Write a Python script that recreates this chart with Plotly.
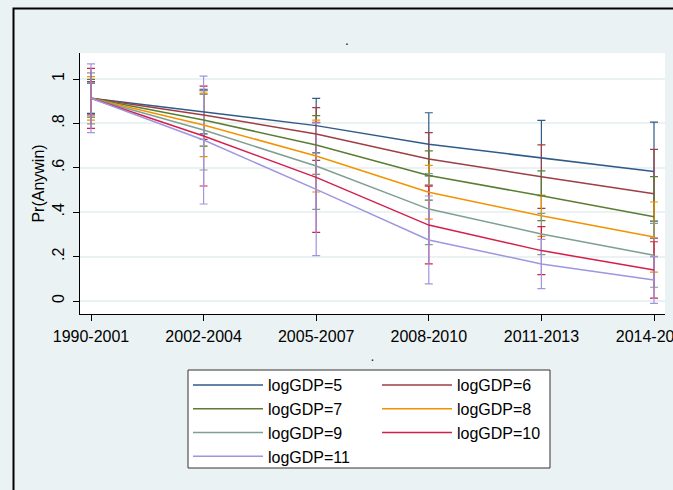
import plotly.graph_objects as go

periods = ["1990-2001", "2002-2004", "2005-2007", "2008-2010", "2011-2013", "2014-2016"]
series_names = ["logGDP=5", "logGDP=6", "logGDP=7", "logGDP=8", "logGDP=9", "logGDP=10", "logGDP=11"]

# predicted Pr(Anywin)
p5 = [0.913, 0.853, 0.790, 0.706, 0.644, 0.583]
p6 = [0.913, 0.838, 0.752, 0.640, 0.560, 0.483]
p7 = [0.913, 0.815, 0.703, 0.565, 0.474, 0.380]
p8 = [0.913, 0.793, 0.653, 0.490, 0.384, 0.288]
p9 = [0.913, 0.770, 0.608, 0.414, 0.302, 0.206]
p10 = [0.913, 0.743, 0.557, 0.342, 0.227, 0.140]
p11 = [0.913, 0.725, 0.503, 0.275, 0.167, 0.095]

# half-width of 95% CI
ci5 = [0.068, 0.100, 0.123, 0.142, 0.170, 0.223]
ci6 = [0.075, 0.110, 0.119, 0.118, 0.143, 0.200]
ci7 = [0.085, 0.117, 0.132, 0.111, 0.112, 0.180]
ci8 = [0.098, 0.143, 0.162, 0.121, 0.093, 0.158]
ci9 = [0.115, 0.180, 0.195, 0.160, 0.093, 0.144]
ci10 = [0.135, 0.225, 0.248, 0.175, 0.108, 0.127]
ci11 = [0.155, 0.288, 0.299, 0.198, 0.111, 0.106]

y_tickvals = [0, 0.2, 0.4, 0.6, 0.8, 1]
y_ticktext = ["0", ".2", ".4", ".6", ".8", "1"]

values = [p5, p6, p7, p8, p9, p10, p11]
cis = [ci5, ci6, ci7, ci8, ci9, ci10, ci11]
colors = ["#2f5b88", "#9e3e45", "#5a7d33", "#f39200", "#7f9f92", "#d41f4c", "#9d96e0"]
legend_ids = ["legend", "legend2", "legend", "legend2", "legend", "legend2", "legend"]

FONT = "Liberation Sans, Arial, sans-serif"
fig = go.Figure()

# confidence interval caps (drawn first)
for name, v, c, col in zip(series_names, values, cis, colors):
    fig.add_trace(go.Scatter(
        x=periods, y=v, mode="markers", marker=dict(size=0.1, color=col, opacity=0),
        error_y=dict(type="data", array=c, symmetric=True, color=col, thickness=1.2, width=4),
        showlegend=False, hoverinfo="skip", name=name + " CI"))

# predicted lines
for name, v, col, lg in zip(series_names, values, colors, legend_ids):
    fig.add_trace(go.Scatter(
        x=periods, y=v, mode="lines", line=dict(color=col, width=1.5),
        name=name, legend=lg))

W, H = 673, 490
L, R, T, B = 80, 8, 53, 176
pw, ph = W - L - R, H - T - B

def px(xp):
    return (xp - L) / pw

def py(yp):
    return (H - B - yp) / ph

IW = 70
fig.update_layout(
    width=W, height=H,
    margin=dict(l=L, r=R, t=T, b=B, autoexpand=False),
    paper_bgcolor="#EAF2F3",
    plot_bgcolor="#FFFFFF",
    font=dict(family=FONT, size=16, color="#000000"),
    title=dict(text=".", x=347 / W, y=1 - 40 / H, xanchor="center", yanchor="middle",
               font=dict(size=14, color="#1a1a1a")),
    xaxis=dict(
        type="category", range=[-0.0977, 5.0977], automargin=False,
        showline=True, linecolor="#000000", linewidth=1,
        ticks="outside", ticklen=6, tickcolor="#000000",
        showgrid=False, zeroline=False, ticklabelstandoff=2,
        tickfont=dict(size=16),
        title=dict(text=".", standoff=6, font=dict(size=14, color="#1a1a1a")),
    ),
    yaxis=dict(
        range=[(301 - 314) / 222, (301 - 53) / 222], automargin=True,
        tickvals=y_tickvals, ticktext=y_ticktext, tickangle=-90,
        showline=True, linecolor="#000000", linewidth=1,
        ticks="outside", ticklen=6, tickcolor="#000000",
        showgrid=True, gridcolor="#EAF2F3", gridwidth=1.5,
        zeroline=False, tickfont=dict(size=16), ticklabelstandoff=3,
        title=dict(text="Pr(Anywin)", standoff=0, font=dict(size=16)),
    ),
    legend=dict(x=px(268 - IW - 10), y=py(368), xanchor="left", yanchor="top",
                bgcolor="rgba(0,0,0,0)", borderwidth=0, tracegroupgap=0,
                itemwidth=IW, font=dict(size=16)),
    legend2=dict(x=px(457 - IW - 10), y=py(368), xanchor="left", yanchor="top",
                 bgcolor="rgba(0,0,0,0)", borderwidth=0, tracegroupgap=0,
                 itemwidth=IW, font=dict(size=16)),
    shapes=[
        dict(type="rect", xref="paper", yref="paper",
             x0=px(188), x1=px(550), y0=py(468), y1=py(370),
             line=dict(color="#333333", width=1), fillcolor="#FFFFFF", layer="below"),
        dict(type="rect", xref="paper", yref="paper",
             x0=px(13.5), x1=px(720), y0=py(560), y1=py(8.5),
             line=dict(color="#000000", width=2), fillcolor="rgba(0,0,0,0)", layer="above"),
    ],
)

fig.write_html("out.html", config={"displayModeBar": False},
               post_script="document.body.style.margin='0';document.body.style.overflow='hidden';")
